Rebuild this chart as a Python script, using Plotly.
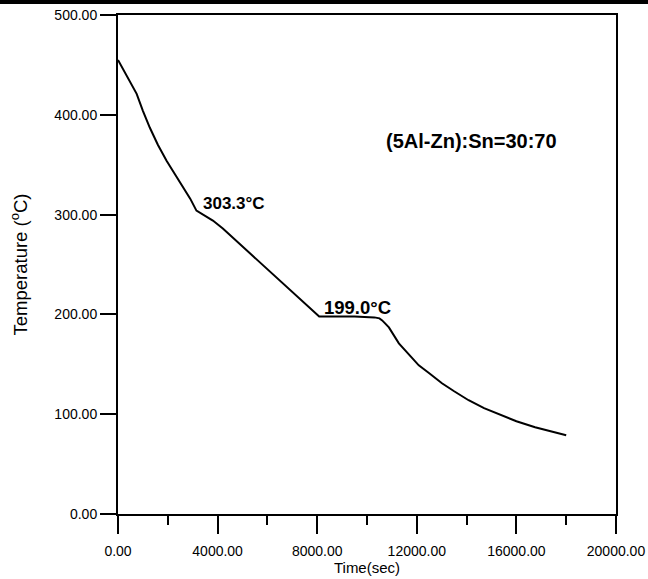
import plotly.graph_objects as go

# Cooling curve data
time_s = [0, 400, 750, 1000, 1280, 1600, 1950, 2300, 2610, 2900, 3150, 3400, 3810, 4210,
          5000, 6080, 7000, 8080, 8500, 9500, 10300, 10500, 10610, 10880, 11280, 11600,
          12080, 12500, 13010, 13500, 14080, 14700, 15410, 16000, 16750, 17400, 18000]
temp_c = [455, 437, 421, 404, 387, 370, 354, 340, 327, 316, 304, 300, 294, 286,
          268, 243, 222, 198, 198, 198, 197, 196, 194, 187, 171, 162,
          149, 141, 131, 123, 114, 106, 99, 93, 87, 83, 79]

x_ticks = [0, 4000, 8000, 12000, 16000, 20000]
x_tick_labels = ["0.00", "4000.00", "8000.00", "12000.00", "16000.00", "20000.00"]
y_ticks = [0, 100, 200, 300, 400, 500]
y_tick_labels = ["0.00", "100.00", "200.00", "300.00", "400.00", "500.00"]

labels = ["303.3°C", "199.0°C", "(5Al-Zn):Sn=30:70"]
label_x = [3320, 8180, 10700]
label_y = [311.5, 207, 373.5]
label_size = [17, 18.5, 20]

font_family = "Liberation Sans, Arial, sans-serif"

fig = go.Figure()
fig.add_trace(go.Scatter(x=time_s, y=temp_c, mode="lines",
                         line=dict(color="black", width=2),
                         showlegend=False, hoverinfo="skip"))

for t, xx, yy, s in zip(labels, label_x, label_y, label_size):
    fig.add_annotation(x=xx, y=yy, text="<b>" + t + "</b>", showarrow=False,
                       xanchor="left", yanchor="middle",
                       font=dict(family=font_family, size=s, color="black"))

fig.update_xaxes(range=[0, 20000], tickvals=x_ticks, ticktext=x_tick_labels,
                 ticks="outside", ticklen=18, tickwidth=2, tickcolor="black",
                 ticklabelstandoff=5, automargin=False,
                 showline=True, linewidth=2, linecolor="black", mirror=True,
                 showgrid=False, zeroline=False,
                 minor=dict(dtick=2000, tick0=0, ticks="outside", ticklen=9,
                            tickwidth=2, tickcolor="black", showgrid=False),
                 tickfont=dict(family=font_family, size=14, color="black"),
                 title=dict(text="Time(sec)", standoff=3,
                            font=dict(family=font_family, size=15, color="black")))
fig.update_yaxes(range=[0, 500], tickvals=y_ticks, ticktext=y_tick_labels,
                 ticks="outside", ticklen=16, tickwidth=2, tickcolor="black",
                 automargin=False,
                 showline=True, linewidth=2, linecolor="black", mirror=True,
                 showgrid=False, zeroline=False,
                 tickfont=dict(family=font_family, size=14, color="black"),
                 title=dict(text="Temperature (<sup>o</sup>C)", standoff=22,
                            font=dict(family=font_family, size=18.5, color="black")))

# top black rule of the page
fig.add_shape(type="rect", xref="paper", yref="paper",
              x0=-118 / 498, x1=1 + 32 / 498, y0=1 + 11 / 499, y1=1 + 15 / 499,
              fillcolor="black", line=dict(width=0), layer="above")

fig.update_layout(width=648, height=579,
                  margin=dict(l=118, r=32, t=15, b=65, autoexpand=False),
                  paper_bgcolor="white", plot_bgcolor="white",
                  font=dict(family=font_family, color="black"))

fig.write_html("out.html")
